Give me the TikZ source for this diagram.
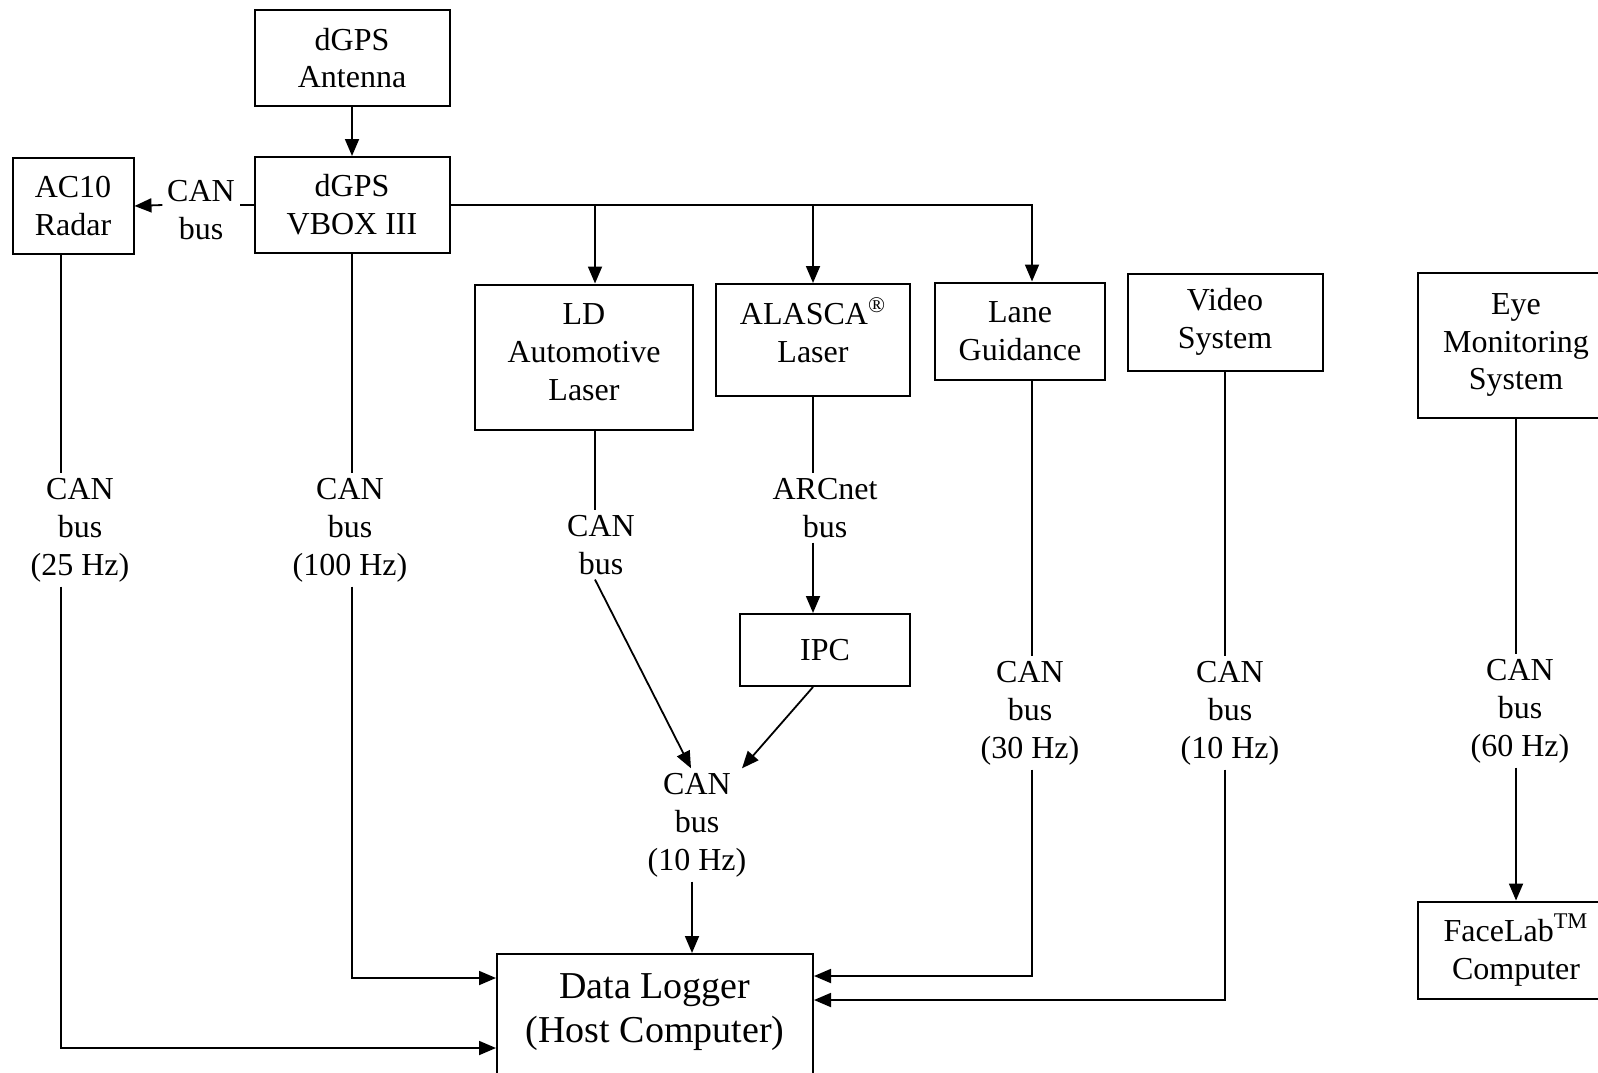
\documentclass[tikz,border=0pt]{standalone}
\usepackage{fontspec}
\setmainfont{Liberation Serif}
\usetikzlibrary{arrows.meta,calc}

\begin{document}
\begin{tikzpicture}[x=0.5pt,y=-0.5pt,
    >={Triangle[length=8.5pt,width=7pt]},
    line width=0.9pt,
    box/.style={draw, line width=1pt, align=center, inner sep=0pt, font=\fontsize{16}{18.9}\selectfont},
    lbl/.style={align=center, inner sep=2pt, font=\fontsize{16}{18.9}\selectfont}]
  \useasboundingbox (0,0) rectangle (1598,1072);
  \clip (0,0) rectangle (1598,1072);
  % Draw the sensor units and the computers.
  \node[box, minimum width=97.5pt, minimum height=48pt] (antenna) at (352,58) {dGPS\\Antenna};
  \node[box, minimum width=97.5pt, minimum height=48pt] (vbox) at (352,205) {dGPS\\VBOX III};
  \node[box, minimum width=60.5pt, minimum height=48pt] (radar) at (73,206) {AC10\\Radar};
  \node[box, minimum width=109pt, minimum height=72.5pt, text depth=5pt] (ld) at (584,357) {LD\\Automotive\\Laser};
  \node[box, minimum width=97pt, minimum height=56pt, text depth=10pt] (alasca) at (813,340) {ALASCA\textsuperscript{\textregistered}\\Laser};
  \node[box, minimum width=85pt, minimum height=48.5pt] (lane) at (1020,331) {Lane\\Guidance};
  \node[box, minimum width=97.5pt, minimum height=48.5pt] (video) at (1225,322) {Video\\System};
  \node[box, minimum width=98pt, minimum height=72.5pt] (eye) at (1516,345) {Eye\\Monitoring\\System};
  \node[box, minimum width=85pt, minimum height=36pt] (ipc) at (825,650) {IPC};
  \node[box, minimum width=98pt, minimum height=48.5pt] (facelab) at (1516,950) {FaceLab\textsuperscript{TM}\\Computer};
  \node[box, minimum width=158pt, minimum height=80pt, anchor=north] (logger) at (655,953) {};
  \node[lbl, font=\fontsize{19}{21.9}\selectfont] (loggertext) at (655,1012) {Data Logger\\(Host Computer)};
  % Bus labels on the links.
  \node[lbl] (canr) at (201,210) {CAN\\bus};
  \node[lbl] (can25) at (80,530) {CAN\\bus\\(25 Hz)};
  \node[lbl] (can100) at (350,530) {CAN\\bus\\(100 Hz)};
  \node[lbl] (canld) at (601,545) {CAN\\bus};
  \node[lbl] (arcnet) at (825,508) {ARCnet\\bus};
  \node[lbl] (can10a) at (697,825) {CAN\\bus\\(10 Hz)};
  \node[lbl] (can30) at (1030,713) {CAN\\bus\\(30 Hz)};
  \node[lbl] (can10b) at (1230,713) {CAN\\bus\\(10 Hz)};
  \node[lbl] (can60) at (1520,711) {CAN\\bus\\(60 Hz)};
  % Drop points and the inputs of the data logger.
  \coordinate (rdrop) at ([xshift=-6pt]radar.south);
  \coordinate (lddrop) at ([xshift=5.5pt]ld.south);
  \coordinate (lanedrop) at ([xshift=6pt]lane.south);
  \coordinate (in1) at ($(logger.north west)+(0,25)$);
  \coordinate (in2) at ($(logger.north west)+(0,95)$);
  \coordinate (in3) at ($(logger.north east)+(0,23)$);
  \coordinate (in4) at ($(logger.north east)+(0,47)$);
  % Draw the dGPS links.
  \draw[->] (antenna) -- (vbox);
  \draw (vbox.west) -- (canr.east |- vbox.west);
  \draw[->] (canr.west |- vbox.west) -- (radar.east);
  \draw[->] (vbox.east) -| ([xshift=6pt]lane.north);
  \draw[->] (lddrop |- vbox.east) -- (lddrop |- ld.north);
  \draw[->] (alasca.north |- vbox.east) -- (alasca.north);
  % Draw the links into the data logger.
  \draw (rdrop) -- (rdrop |- can25.north);
  \draw[->] (rdrop |- can25.south) |- (in2);
  \draw (vbox.south) -- (vbox.south |- can100.north);
  \draw[->] (vbox.south |- can100.south) |- (in1);
  \draw (lddrop) -- (lddrop |- canld.north);
  \draw[->] (lddrop |- canld.south) -- ($(can10a.north)+(-6,0)$);
  \draw (alasca.south) -- (alasca.south |- arcnet.north);
  \draw[->] (alasca.south |- arcnet.south) -- (alasca.south |- ipc.north);
  \draw[->] (alasca.south |- ipc.south) -- ($(can10a.north)+(45,0)$);
  \draw[->] ([xshift=-2.5pt]can10a.south) -- ([xshift=-2.5pt]can10a.south |- logger.north);
  \draw (lanedrop) -- (lanedrop |- can30.north);
  \draw[->] (lanedrop |- can30.south) |- (in3);
  \draw (video.south) -- (video.south |- can10b.north);
  \draw[->] (video.south |- can10b.south) |- (in4);
  % Draw the eye monitoring link.
  \draw (eye.south) -- (eye.south |- can60.north);
  \draw[->] (eye.south |- can60.south) -- (facelab.north);
\end{tikzpicture}
\end{document}
